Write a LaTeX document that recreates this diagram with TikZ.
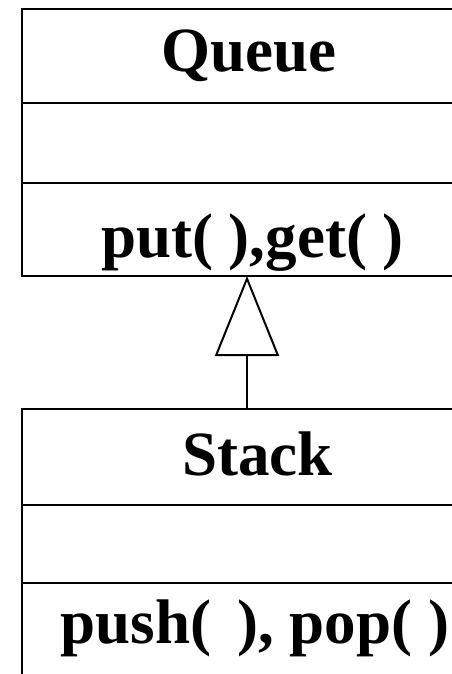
\documentclass[tikz,border=0pt]{standalone}
\usepackage{fontspec}
\setmainfont{Liberation Serif}
\usetikzlibrary{arrows.meta, positioning}
\tikzset{compart/.style={draw, line width=2pt, minimum width=450pt, inner sep=0pt, outer sep=0pt},
  classtext/.style={font=\bfseries\fontsize{63}{63}\selectfont, inner sep=0pt, anchor=base}}

\begin{document}
\begin{tikzpicture}[x=1pt, y=-1pt, >={Triangle[open, length=80pt, width=64pt]}]
\useasboundingbox (0,0) rectangle (452,674);
\clip (0,0) rectangle (452,674);
% Queue class
\node[compart, minimum height=94pt] (qname) at (247,56) {};
\node[compart, minimum height=80pt, below=0pt of qname] (qattr) {};
\node[compart, minimum height=93pt, below=0pt of qattr] (qops) {};
% Stack class
\node[compart, minimum height=96pt] (sname) at (247,457) {};
\node[compart, minimum height=78pt, below=0pt of sname] (sattr) {};
\node[compart, minimum height=93pt, below=0pt of sattr] (sops) {};
\node[classtext] (qnametext) at (248.5,72) {Queue};
\node[classtext] (qopstext) at (252.5,257) {put( ),get( )};
\node[classtext] (snametext) at (257.5,475) {Stack};
\node[classtext] (sopstext) at (255,643) {push(\,\ ), pop( )};
% inheritance
\draw[->, line width=2pt] (sname.north) -- (qops.south);
\end{tikzpicture}
\end{document}
